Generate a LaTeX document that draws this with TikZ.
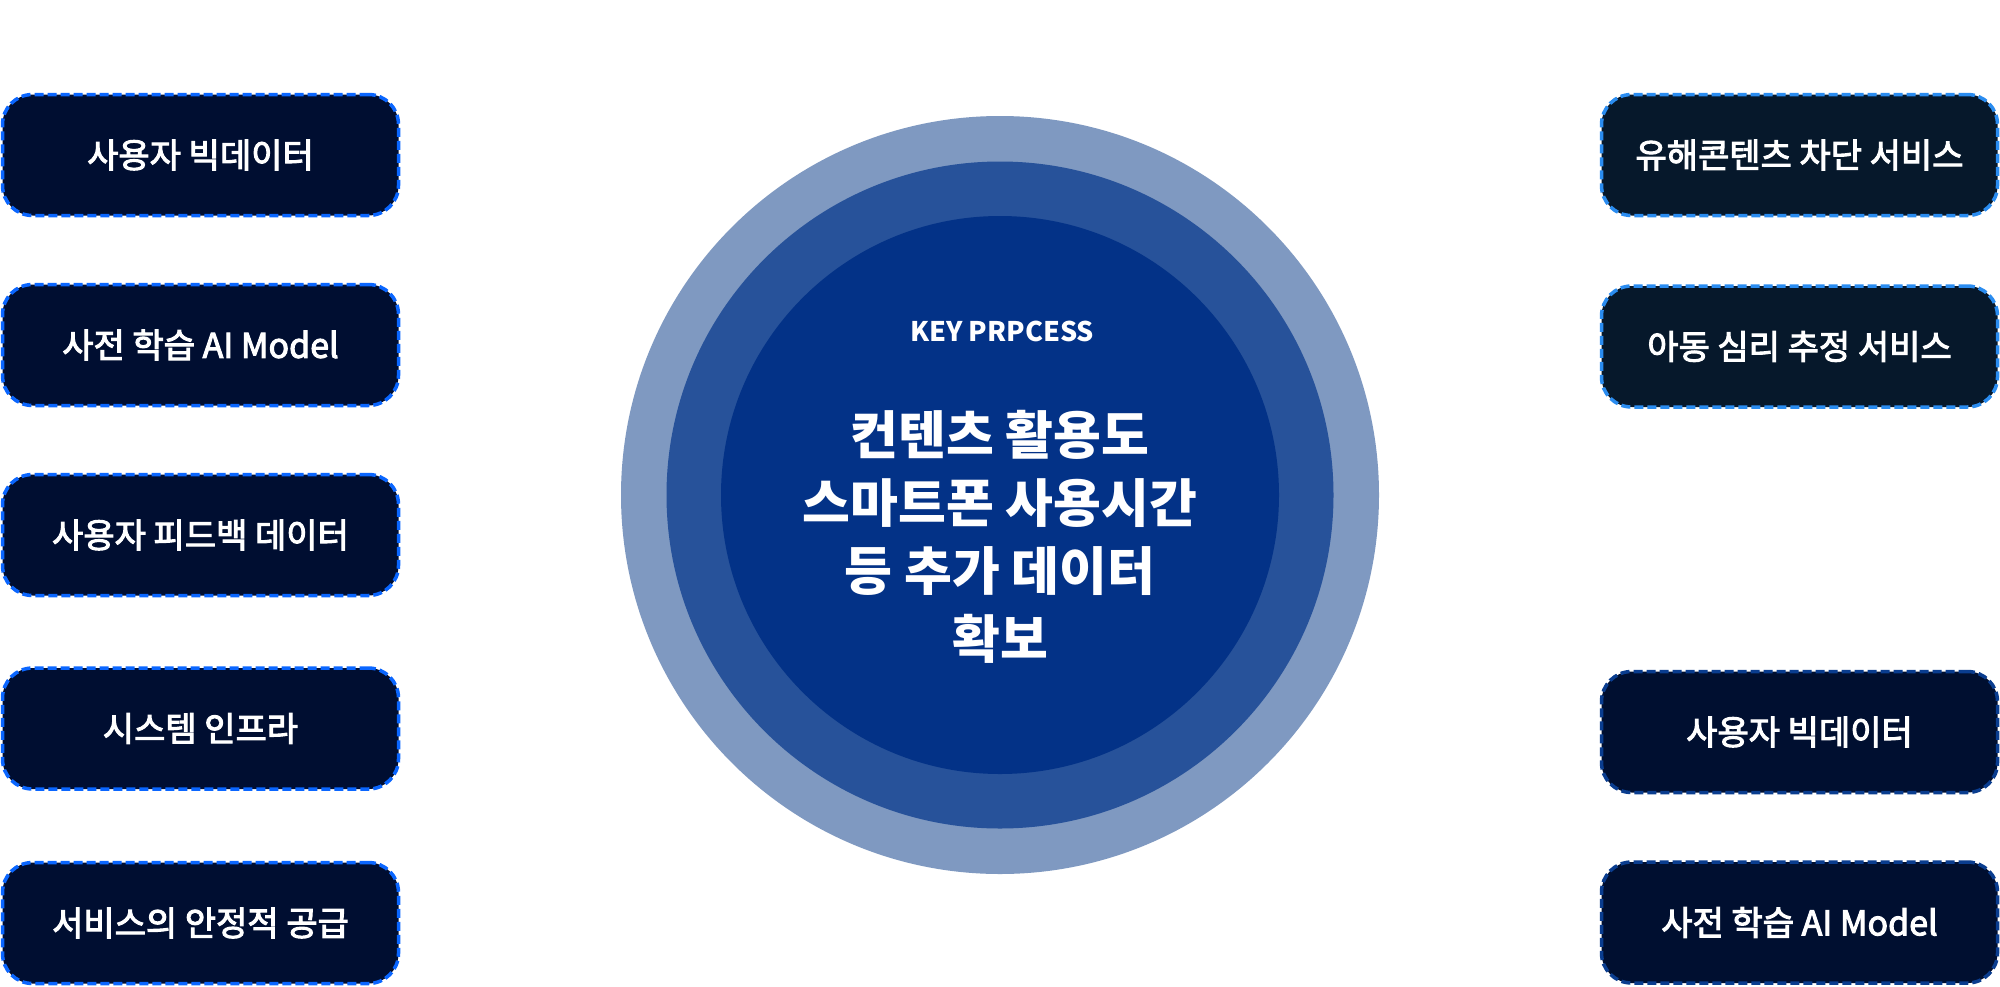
\documentclass[tikz,border=0pt]{standalone}
\usepackage{fontspec}
\setmainfont{Noto Sans CJK KR}
\newfontfamily\kr{Noto Sans CJK KR}
\newfontfamily\krm{Noto Sans CJK KR}[FakeBold=3]
\definecolor{ringA}{HTML}{7F99C1}
\definecolor{ringB}{HTML}{27529A}
\definecolor{ringC}{HTML}{033287}
\definecolor{fillL}{HTML}{000E31}
\definecolor{dashL}{HTML}{0A66FF}
\definecolor{fillRT}{HTML}{06182B}
\definecolor{dashRT}{HTML}{2A8CF0}
\definecolor{fillRB}{HTML}{000F30}
\definecolor{dashRB}{HTML}{0A3D8F}
\tikzset{
  boxbase/.style={rounded corners=30pt, minimum width=396pt, minimum height=121pt,
    inner sep=0pt, line width=3.5pt, dash pattern=on 9pt off 4pt, text=white,
    font=\krm\fontsize{34}{40}\selectfont},
  boxL/.style={boxbase, draw=dashL, fill=fillL},
  boxRT/.style={boxbase, draw=dashRT, fill=fillRT},
  boxRB/.style={boxbase, draw=dashRB, fill=fillRB},
  ring/.style={circle, inner sep=0pt, draw=none}
}
\begin{document}
\begin{tikzpicture}[x=1pt,y=-1pt]
\useasboundingbox (0,0) rectangle (2000,986);
\fill[white] (0,0) rectangle (2000,986);
% circles
\node[ring, fill=ringA, minimum size=758pt] (outer) at (1000,495) {};
\node[ring, fill=ringB, minimum size=667pt] (middle) at (1000,495) {};
\node[ring, fill=ringC, minimum size=558pt] (inner) at (1000,495) {};
\node[text=white, font=\kr\bfseries\fontsize{27}{32}\selectfont] (key) at (1002,331) {KEY PRPCESS};
\node[text=white, align=center, font=\kr\bfseries\fontsize{52}{68}\selectfont] (main) at (1000,537)
  {컨텐츠 활용도\\스마트폰 사용시간\\등 추가 데이터\\확보};
% left boxes
\node[boxL] (l1) at (200.5,155) {사용자 빅데이터};
\node[boxL] (l2) at (200.5,345) {사전 학습 AI Model};
\node[boxL] (l3) at (200.5,535) {사용자 피드백 데이터};
\node[boxL] (l4) at (200.5,728.5) {시스템 인프라};
\node[boxL] (l5) at (200.5,923) {서비스의 안정적 공급};
% right boxes
\node[boxRT] (r1) at (1799.5,155) {유해콘텐츠 차단 서비스};
\node[boxRT] (r2) at (1799.5,346.5) {아동 심리 추정 서비스};
\node[boxRB] (r3) at (1799.5,732) {사용자 빅데이터};
\node[boxRB] (r4) at (1799.5,922.5) {사전 학습 AI Model};
\end{tikzpicture}
\end{document}
